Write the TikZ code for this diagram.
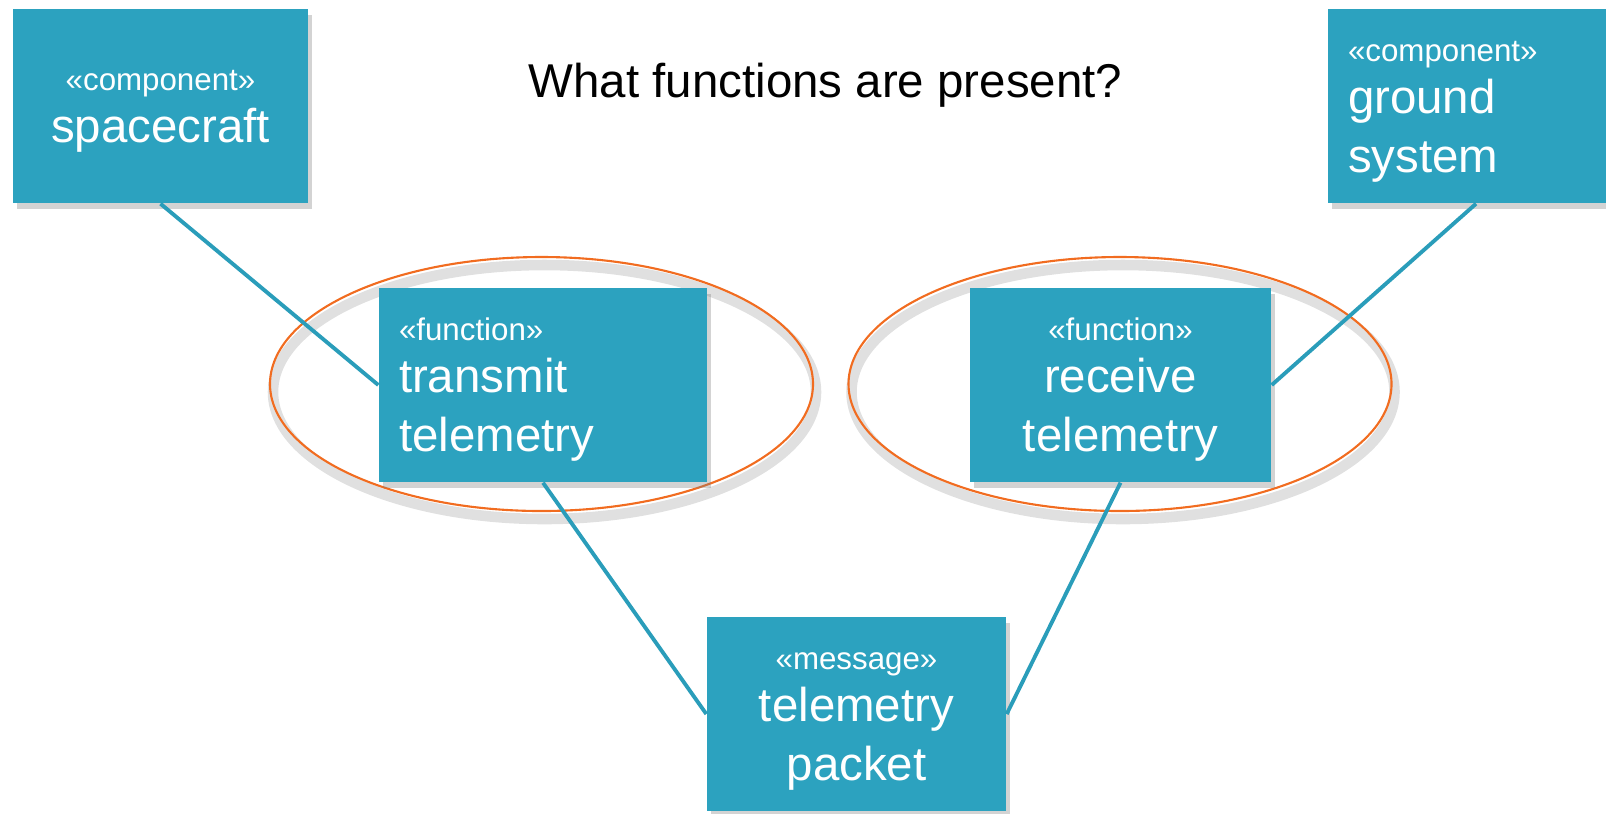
\documentclass[tikz,border=0pt]{standalone}
\usepackage{fontspec}
\setmainfont{Liberation Sans}
\usetikzlibrary{positioning,shapes.geometric,shadows}
\definecolor{umlteal}{RGB}{44,162,191}
\definecolor{linkteal}{RGB}{42,157,186}
\definecolor{scopeorange}{RGB}{241,108,32}

\newcommand{\stereo}[1]{{\fontsize{8.9}{16}\selectfont\rule{0pt}{9pt}«#1»}\\[-1.8pt]}

\begin{document}
\begin{tikzpicture}[
  every node/.style={font=\fontsize{13.5}{16.6}\selectfont},
  block/.style={fill=umlteal,text=white,minimum height=1.94cm,inner sep=0.2cm,
    drop shadow={shadow xshift=0.04cm,shadow yshift=-0.06cm,opacity=0.35}},
  midblock/.style={block,align=center,minimum width=#1},
  leftblock/.style={block,align=left,text width=#1},
  scopering/.style={ellipse,draw=scopeorange,line width=0.6pt,minimum width=5.43cm,minimum height=2.54cm,
    preaction={draw=black,opacity=0.12,line width=3pt,transform canvas={xshift=0.3mm,yshift=-0.8mm}}},
  link/.style={draw=linkteal,line width=1.1pt}
]
  \useasboundingbox (0,0) rectangle (16.06,-8.13);
  \clip (0,0) rectangle (16.06,-8.13);

  % scope of each function
  \node[scopering] (txscope) at (5.415,-3.84) {};
  \node[scopering] (rxscope) at (11.20,-3.84) {};

  \node (question) at (8.255,-0.85) {What functions are present?};

  \node[midblock=2.95cm] (spacecraft) at (1.605,-1.06) {\stereo{component}spacecraft};
  \node[leftblock=2.56cm] (ground) at (14.76,-1.06) {\stereo{component}ground\\system};
  \node[leftblock=2.88cm] (transmit) at (5.43,-3.85) {\stereo{function}transmit\\telemetry};
  \node[midblock=3.01cm] (receive) at (11.205,-3.85) {\stereo{function}receive\\telemetry};
  \node[midblock=2.99cm] (packet) at (8.565,-7.14) {\stereo{message}telemetry\\packet};

  \draw[link] (spacecraft.south) -- (transmit.west);
  \draw[link] (ground.south) -- (receive.east);
  \draw[link] (transmit.south) -- (packet.west);
  \draw[link] (receive.south) -- (packet.east);
\end{tikzpicture}
\end{document}
